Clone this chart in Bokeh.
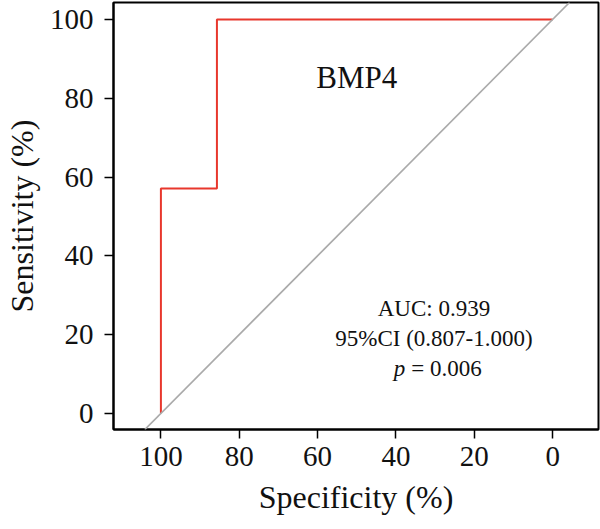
from bokeh.plotting import figure
from bokeh.models import Range1d, Slope, Label, FixedTicker
from bokeh.embed import file_html
from bokeh.resources import INLINE

# ROC curve for BMP4 (specificity is plotted reversed, 100 -> 0)
specificity = [100, 100, 85.7, 85.7, 0]
sensitivity = [0, 57.1, 57.1, 100, 100]
tick_values = [0, 20, 40, 60, 80, 100]

marker_name = "BMP4"
auc_text = "AUC: 0.939"
ci_text = "95%CI (0.807-1.000)"
p_symbol = "p"
p_value_text = "= 0.006"

FONT = "Liberation Serif"

p = figure(
    width=600, height=529,
    output_backend="svg", toolbar_location=None,
    x_range=Range1d(112.1, -11.7), y_range=Range1d(-4.1, 104.3),
    min_border_left=109, min_border_right=2,
    min_border_top=2, min_border_bottom=100,
)

p.xgrid.visible = False
p.ygrid.visible = False
p.outline_line_color = "black"
p.outline_line_width = 2
p.background_fill_color = "white"
p.border_fill_color = "white"

for ax in (p.xaxis[0], p.yaxis[0]):
    ax.ticker = FixedTicker(ticks=tick_values)
    ax.minor_tick_line_color = None
    ax.major_tick_in = 0
    ax.major_tick_out = 9
    ax.major_tick_line_width = 1.5
    ax.major_tick_line_color = "black"
    ax.axis_line_width = 2
    ax.axis_line_color = "black"
    ax.major_label_text_font = FONT
    ax.major_label_text_font_size = "29px"
    ax.major_label_text_color = "#111111"
    ax.axis_label_text_font = FONT
    ax.axis_label_text_font_size = "32px"
    ax.axis_label_text_font_style = "normal"
    ax.axis_label_text_color = "#111111"

p.xaxis.axis_label = "Specificity (%)"
p.yaxis.axis_label = "Sensitivity (%)"
p.xaxis.major_label_standoff = 8
p.xaxis.axis_label_standoff = 10
p.yaxis.major_label_standoff = 11
p.yaxis.axis_label_standoff = 7

# reference diagonal
p.add_layout(Slope(gradient=-1, y_intercept=100, line_color="#aaaaaa", line_width=1.7))

# ROC step curve
p.line(specificity, sensitivity, line_color="#e8372c", line_width=2)

p.add_layout(Label(x=50, y=85.3, text=marker_name, text_align="center",
                   text_baseline="alphabetic", text_font=FONT,
                   text_font_size="31px", text_color="#111111"))

for txt, yy in ((auc_text, 26.6), (ci_text, 19.0)):
    p.add_layout(Label(x=30.3, y=yy, text=txt, text_align="center",
                       text_baseline="alphabetic", text_font=FONT,
                       text_font_size="23px", text_color="#111111"))

# p-value line: italic "p" followed by the value
p.add_layout(Label(x=37.6, y=11.4, text=p_symbol, text_align="right",
                   text_baseline="alphabetic", text_font=FONT,
                   text_font_style="italic",
                   text_font_size="23px", text_color="#111111"))
p.add_layout(Label(x=37.6, y=11.4, x_offset=6, text=p_value_text, text_align="left",
                   text_baseline="alphabetic", text_font=FONT,
                   text_font_size="23px", text_color="#111111"))

open("out.html", "w").write(file_html(p, INLINE))
